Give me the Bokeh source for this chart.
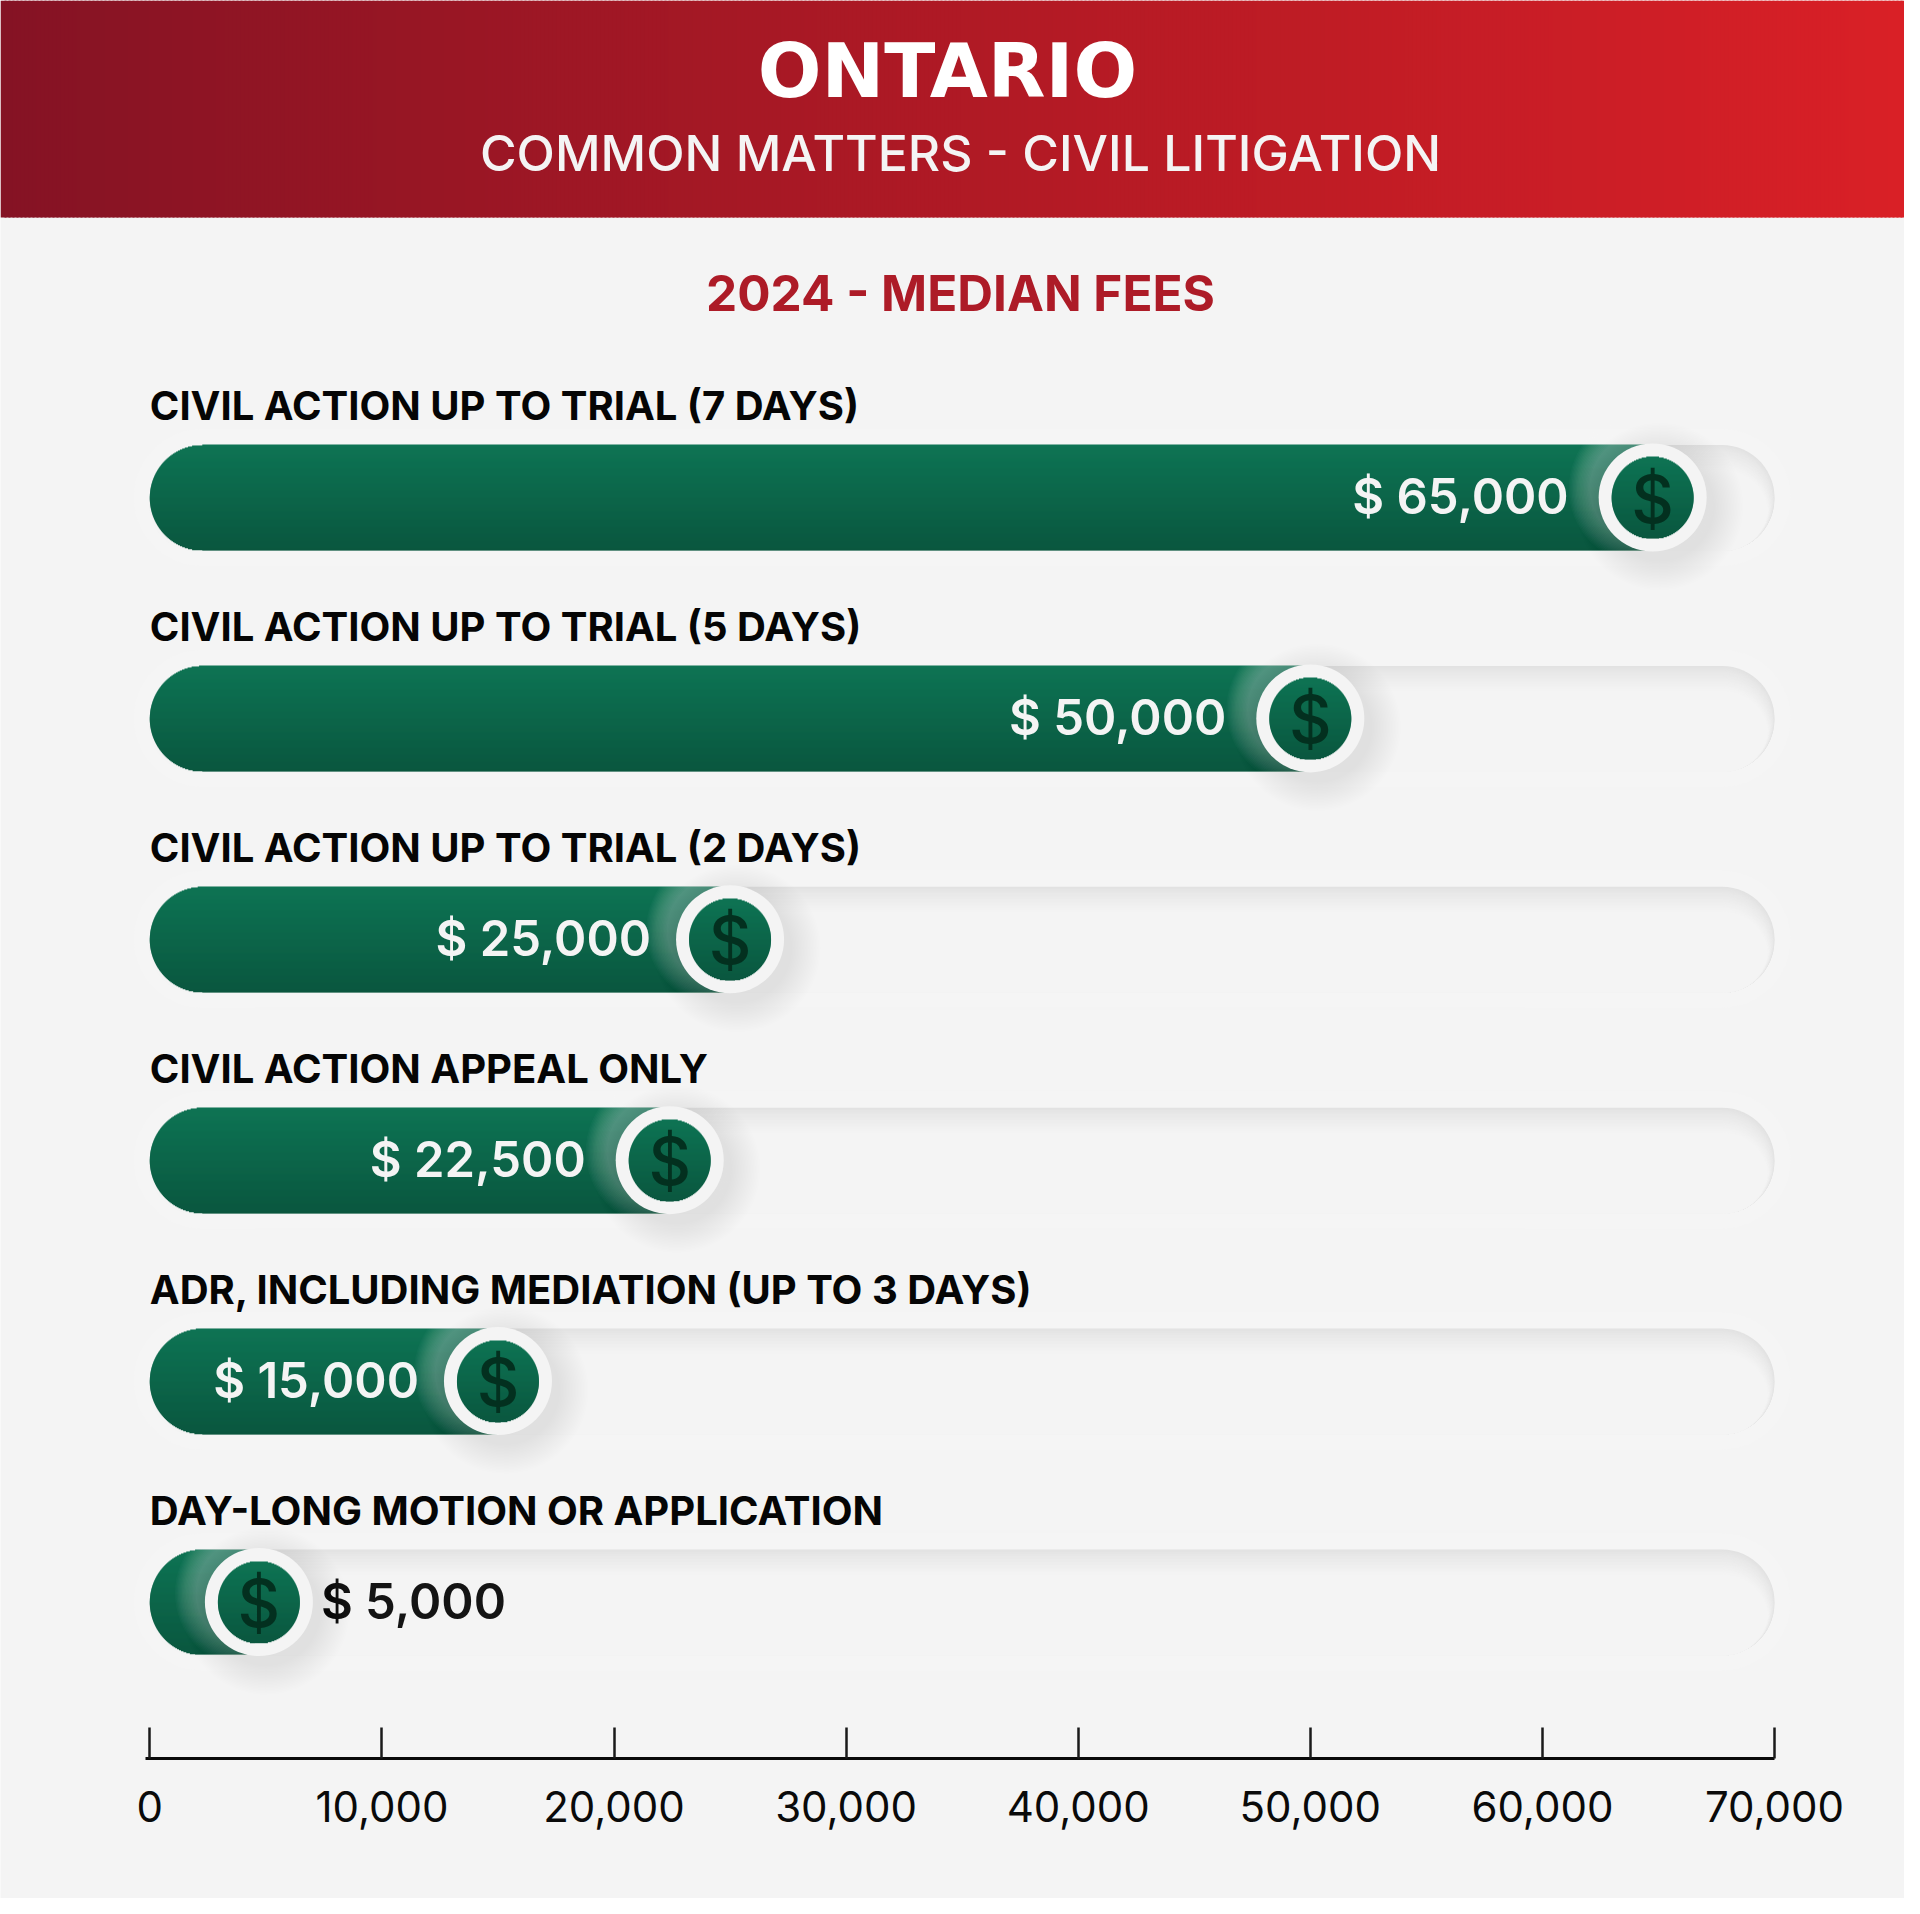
import numpy as np
from bokeh.embed import file_html
from bokeh.resources import INLINE
from bokeh.plotting import figure
from bokeh.core.properties import value
from bokeh.models import Range1d, FixedTicker, NumeralTickFormatter

title = "ONTARIO"
subtitle = "COMMON MATTERS - CIVIL LITIGATION"
section = "2024 - MEDIAN FEES"
categories = ["CIVIL ACTION UP TO TRIAL (7 DAYS)", "CIVIL ACTION UP TO TRIAL (5 DAYS)",
              "CIVIL ACTION UP TO TRIAL (2 DAYS)", "CIVIL ACTION APPEAL ONLY",
              "ADR, INCLUDING MEDIATION (UP TO 3 DAYS)", "DAY-LONG MOTION OR APPLICATION"]
bar_values = [64750, 50000, 25000, 22400, 15000, 4700]
value_labels = ["$ 65,000", "$ 50,000", "$ 25,000", "$ 22,500", "$ 15,000", "$ 5,000"]
tick_values = [0, 10000, 20000, 30000, 40000, 50000, 60000, 70000]

W, H = 1904, 1898
OFF = 0
X0 = 149.3
PX_PER = 232.1 / 10000
X1 = X0 + 70000 * PX_PER
def d(px):
    return (np.asarray(px, dtype=float) - X0) / PX_PER
def lerp(a, b, t):
    return "#%02x%02x%02x" % tuple(int(round(a[i] + (b[i] - a[i]) * t)) for i in range(3))

BG = "#f4f4f4"
p = figure(width=W, height=H, output_backend="svg", toolbar_location=None,
           x_range=Range1d(float(d(OFF)), float(d(OFF + W))),
           y_range=Range1d(OFF + H, OFF), y_axis_location=None,
           min_border=0, background_fill_color=BG, border_fill_color=BG, outline_line_color=None)
p.grid.visible = False

# header gradient
xs = np.arange(OFF, OFF + W, 4)
c0, c1 = (0x85, 0x13, 0x24), (0xda, 0x20, 0x26)
p.quad(left=d(xs), right=d(xs + 6), top=OFF, bottom=217,
       fill_color=[lerp(c0, c1, x / 1920) for x in xs], line_color=None)

def rrect(x0, x1, top, bot, r):
    t = np.linspace(0, np.pi / 2, 16)
    px = np.concatenate([x0 + r - r * np.cos(t), x1 - r + r * np.sin(t), x1 - r + r * np.cos(t), x0 + r - r * np.sin(t)])
    py = np.concatenate([top + r - r * np.sin(t), top + r - r * np.cos(t), bot - r + r * np.sin(t), bot - r + r * np.cos(t)])
    return d(px), py

ROW0, PITCH, HALF = 497.0, 220.9, 52.5
rows = [ROW0 + PITCH * i for i in range(len(categories))]

# tracks with soft inner shadow
for yc in rows:
    ox, oy = rrect(X0 - 16, X1 + 16, yc - HALF - 16, yc + HALF + 16, HALF + 16)
    p.patch(ox, oy, fill_color="#f5f5f5", line_color=None)
    N = 26
    xl, yl, cl = [], [], []
    for k in range(N):
        a, b = rrect(X0, X1 - k * 0.25, yc - HALF + k, yc + HALF + 1, max(HALF - k * 0.3, 10))
        xl.append(a); yl.append(b)
        cl.append(lerp((0xe2, 0xe2, 0xe2), (0xf4, 0xf4, 0xf4), min(1, (k / (N - 1)) ** 0.8)))
    p.patches(xl, yl, fill_color=cl, line_color=None)

# gradient bars
top_c, bot_c = (0x0e, 0x74, 0x54), (0x0a, 0x57, 0x3f)
L, R, T, B, C = [], [], [], [], []
for yc, v in zip(rows, bar_values):
    y = np.arange(np.floor(yc - HALF), np.ceil(yc + HALF))
    for yy in y:
        dy = yy + 0.5 - yc
        off = HALF - np.sqrt(max(HALF ** 2 - dy ** 2, 0))
        L.append(float(d(X0 + off))); R.append(v); T.append(yy)
        B.append(yy + 1 if yy == y[-1] else yy + 1.7)
        C.append(lerp(top_c, bot_c, (dy + HALF) / (2 * HALF)))
p.quad(left=L, right=R, top=T, bottom=B, fill_color=C, line_color=None)

# value labels
MAIN_FONT = "Inter"
label_gaps = [84, 84, 79, 84, 79, 62]
for yc, v, lab, gap in zip(rows, bar_values, value_labels, label_gaps):
    inside = v > 7000
    px = X0 + v * PX_PER
    p.text([float(d(px - gap)) if inside else float(d(px + gap))], [yc - 1], text=[lab],
           text_font=value("Inter SemiBold, Inter"), text_font_size="49px",
           text_align="right" if inside else "left", text_baseline="middle",
           text_color="#f4f4f4" if inside else "#141414")

# knob light and shadow
KR, IR = 54, 41
for yc, v in zip(rows, bar_values):
    px = X0 + v * PX_PER
    for k in range(16):
        r = KR + 22 - k * 22 / 16
        p.scatter([float(d(px - 8))], [yc - 9], size=2 * r, fill_color="#ffffff", fill_alpha=0.022, line_color=None)
    for k in range(20):
        r = KR + 30 - k * 30 / 20
        p.scatter([float(d(px + 7))], [yc + 9], size=2 * r, fill_color="#000000", fill_alpha=0.004, line_color=None)
    p.scatter([float(d(px))], [yc], size=2 * KR, fill_color=BG, line_color=None)

L, R, T, B, C = [], [], [], [], []
for yc, v in zip(rows, bar_values):
    px = X0 + v * PX_PER
    y = np.arange(np.floor(yc - IR), np.ceil(yc + IR))
    for yy in y:
        dy = yy + 0.5 - yc
        hw = np.sqrt(max(IR ** 2 - dy ** 2, 0))
        L.append(float(d(px - hw))); R.append(float(d(px + hw))); T.append(yy)
        B.append(yy + 1 if yy == y[-1] else yy + 1.7)
        C.append(lerp(top_c, bot_c, (dy + IR) / (2 * IR)))
p.quad(left=L, right=R, top=T, bottom=B, fill_color=C, line_color=None)
p.text([float(d(X0 + v * PX_PER)) for v in bar_values], [y + 1 for y in rows], text=["$"] * len(rows),
       text_font=value("Inter Medium, Inter"), text_font_size="66px", text_align="center", text_baseline="middle",
       text_color="#03301f")

# category labels
p.text([0] * len(rows), [y - 92 for y in rows], text=categories, text_font=value(MAIN_FONT),
       text_font_style="bold", text_font_size="40px", text_baseline="middle", text_color="#050505")

# titles
cx = float(d(960))
p.text([float(d(947))], [70], text=[title], text_font=value("DejaVu Sans"), text_font_style="bold",
       text_font_size="75px", text_align="center", text_baseline="middle", text_color="#ffffff")
p.text([cx], [152], text=[subtitle], text_font=value("Inter Medium, Inter"), text_font_size="50px",
       text_align="center", text_baseline="middle", text_color="#f4f4f4")
p.text([cx], [292], text=[section], text_font=value(MAIN_FONT), text_font_style="bold",
       text_font_size="49.5px", text_align="center", text_baseline="middle", text_color="#ad1b27")

# axis
ax = p.xaxis[0]
ax.fixed_location = 1758
ax.bounds = (-200, 70000)
ax.ticker = FixedTicker(ticks=tick_values)
ax.formatter = NumeralTickFormatter(format="0,0")
ax.axis_line_color = "#0a0a0a"; ax.axis_line_width = 3
ax.major_tick_line_color = "#1a1a1a"; ax.major_tick_line_width = 2.5
ax.major_tick_in = 31; ax.major_tick_out = 0
ax.minor_tick_line_color = None
ax.major_label_standoff = 32
ax.major_label_text_font = MAIN_FONT
ax.major_label_text_font_size = "42px"
ax.major_label_text_color = "#0a0a0a"

open("out.html", "w").write(file_html(p, INLINE))
